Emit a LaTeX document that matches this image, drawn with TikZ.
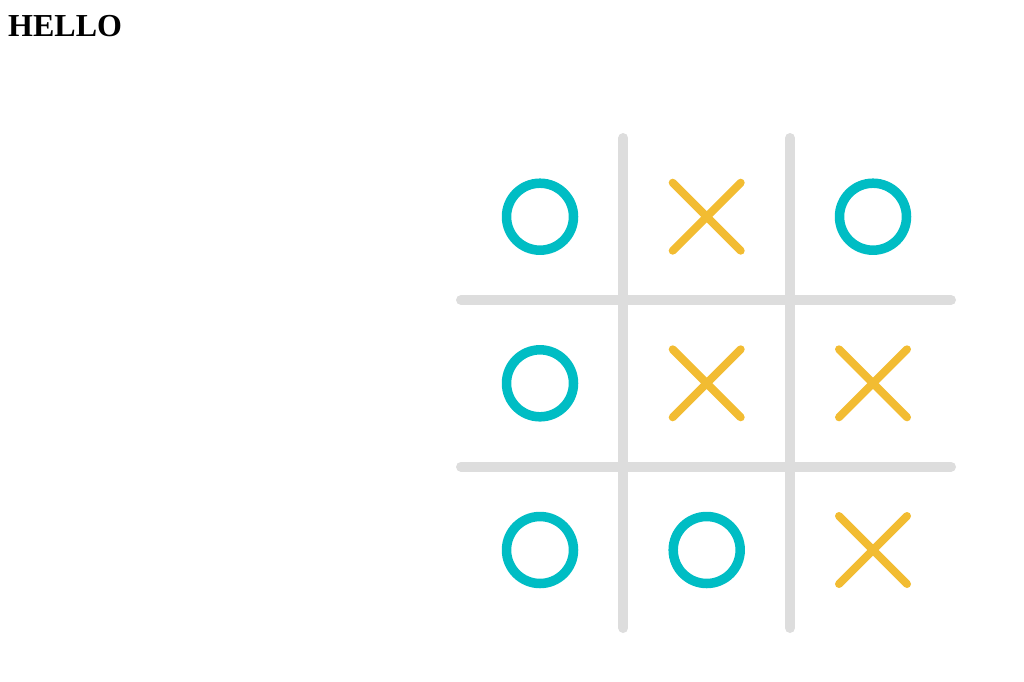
\documentclass[tikz,border=0pt]{standalone}
\usepackage{fontspec}
\setmainfont{Liberation Serif}
\usetikzlibrary{calc}
\definecolor{gridgray}{HTML}{DDDDDD}
\definecolor{oteal}{HTML}{00BDC4}
\definecolor{xyellow}{HTML}{F2BC32}
\begin{document}
\begin{tikzpicture}[x=1pt,y=-1pt,
  gridline/.style={draw=gridgray,line width=10pt,line cap=round},
  omark/.style={circle,draw=oteal,line width=9.5pt,minimum size=67pt,inner sep=0pt},
  xstroke/.style={draw=xyellow,line width=8pt,line cap=round}]
\useasboundingbox (0,0) rectangle (1024,681);
\node[anchor=base west,inner sep=0pt,font=\fontsize{32}{38}\selectfont\bfseries] (title) at (8,36) {HELLO};
% grid
\draw[gridline] (623.3,138) -- (623.3,628);
\draw[gridline] (790,138) -- (790,628);
\draw[gridline] (461,300) -- (951,300);
\draw[gridline] (461,466.7) -- (951,466.7);
% O marks
\node[omark] (o11) at (540,216.7) {};
\node[omark] (o13) at (873,216.7) {};
\node[omark] (o21) at (540,383.3) {};
\node[omark] (o31) at (540,550) {};
\node[omark] (o32) at (706.7,550) {};
% X marks
\foreach \n/\cx/\cy in {x12/706.7/216.7, x22/706.7/383.3, x23/873/383.3, x33/873/550}{
  \coordinate (\n) at (\cx,\cy);
  \draw[xstroke] ($(\n)+(-34,-34)$) -- ($(\n)+(34,34)$);
  \draw[xstroke] ($(\n)+(-34,34)$) -- ($(\n)+(34,-34)$);
}
\end{tikzpicture}
\end{document}
